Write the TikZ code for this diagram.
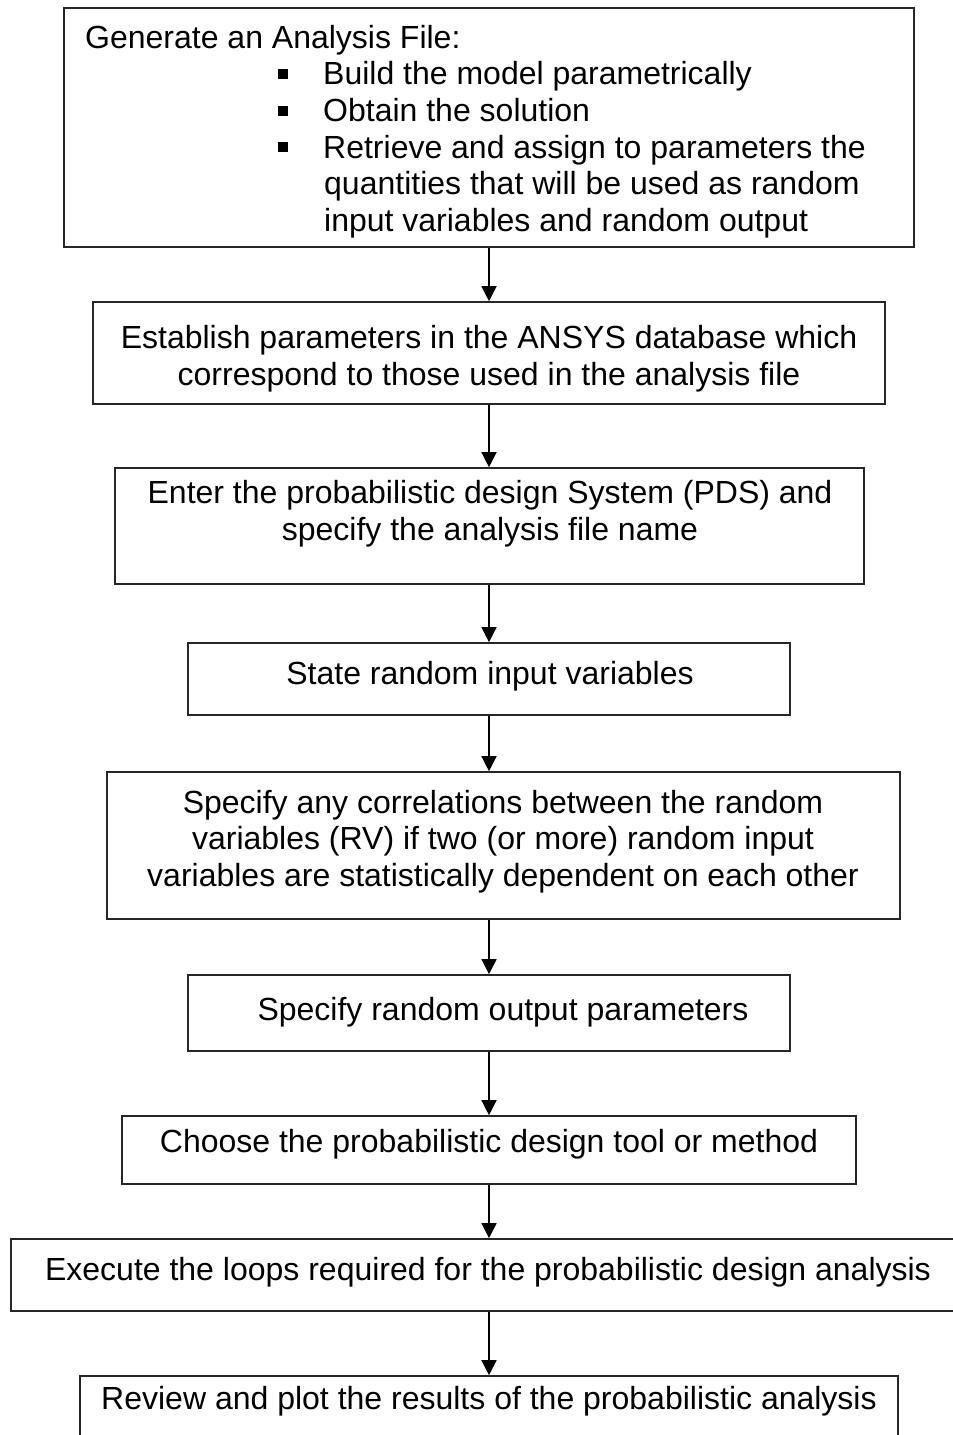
\documentclass[tikz,border=0pt]{standalone}
\usepackage{fontspec}
\setmainfont{Liberation Sans}
\usetikzlibrary{arrows.meta}

\newcommand{\sqbul}{\rule[6pt]{10pt}{10pt}}

\begin{document}
\begin{tikzpicture}[x=1pt, y=1pt,
  stepbox/.style={draw=black!85, line width=1.6pt, inner sep=0pt, fill=none},
  steptext/.style={inner sep=0pt, align=center,
    font=\fontsize{32}{36.6}\selectfont},
  flow/.style={line width=1.3pt, -{Triangle[length=15pt, width=15pt]}}]
\useasboundingbox (0,0) rectangle (953,-1435);

%Step boxes
\node[stepbox, minimum width=850, minimum height=239] (s1) at (489,-127.5) {};
\node[stepbox, minimum width=792, minimum height=102] (s2) at (489,-353) {};
\node[stepbox, minimum width=749, minimum height=116] (s3) at (489.5,-526) {};
\node[stepbox, minimum width=602, minimum height=72] (s4) at (489,-679) {};
\node[stepbox, minimum width=793, minimum height=147] (s5) at (503.5,-845.5) {};
\node[stepbox, minimum width=602, minimum height=76] (s6) at (489,-1013) {};
\node[stepbox, minimum width=734, minimum height=68] (s7) at (489,-1150) {};
\node[stepbox, minimum width=956, minimum height=72] (s8) at (489,-1275) {};
\node[stepbox, minimum width=818, minimum height=74] (s9) at (489,-1413) {};

%Step texts
\node[steptext, anchor=north west, align=left] (t1) at (85,-25)
  {Generate an Analysis File:\\
   \hspace*{193pt}\sqbul\hspace{35pt}Build the model parametrically\\
   \hspace*{193pt}\sqbul\hspace{35pt}Obtain the solution\\
   \hspace*{193pt}\sqbul\hspace{35pt}Retrieve and assign to parameters the\\
   \hspace*{239pt}quantities that will be used as random\\
   \hspace*{239pt}input variables and random output};
\node[steptext] (t2) at (489,-358.5)
  {Establish parameters in the ANSYS database which\\
   correspond to those used in the analysis file};
\node[steptext] (t3) at (490,-513.5)
  {Enter the probabilistic design System (PDS) and\\
   specify the analysis file name};
\node[steptext] (t4) at (490,-676.5) {State random input variables};
\node[steptext] (t5) at (503,-841.5)
  {Specify any correlations between the random\\
   variables (RV) if two (or more) random input\\
   variables are statistically dependent on each other};
\node[steptext] (t6) at (503,-1012.5) {Specify random output parameters};
\node[steptext] (t7) at (489,-1144.5) {Choose the probabilistic design tool or method};
\node[steptext] (t8) at (488,-1272.5)
  {Execute the loops required for the probabilistic design analysis};
\node[steptext] (t9) at (489,-1401.5)
  {Review and plot the results of the probabilistic analysis};

%Flow arrows
\coordinate (axis) at (489,0);
\foreach \a/\b in {s1/s2, s2/s3, s3/s4, s4/s5, s5/s6, s6/s7, s7/s8, s8/s9}
  \draw[flow] (\a.south -| axis) -- (\b.north -| axis);
\end{tikzpicture}
\end{document}
